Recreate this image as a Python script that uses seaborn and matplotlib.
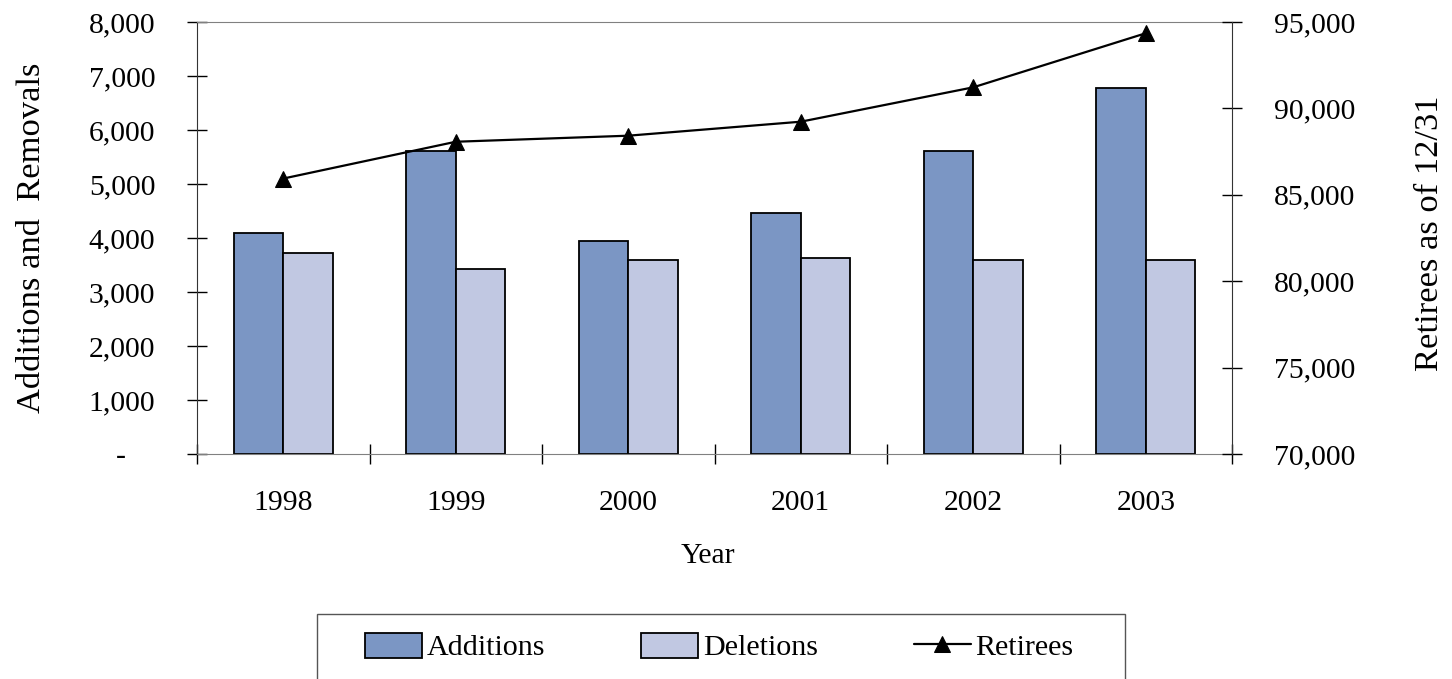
import numpy as np
import pandas as pd
import matplotlib
matplotlib.use("Agg")
import matplotlib.pyplot as plt
import matplotlib.ticker as mticker
from matplotlib.patches import Rectangle
import seaborn as sns

years = ["1998", "1999", "2000", "2001", "2002", "2003"]
additions = [4100, 5620, 3950, 4460, 5610, 6780]
deletions = [3720, 3420, 3590, 3630, 3600, 3590]
retirees = [85940, 88070, 88420, 89230, 91220, 94350]

sns.set_style("white")
plt.rcParams["font.family"] = ["Liberation Serif", "DejaVu Serif"]
plt.rcParams["font.size"] = 21
plt.rcParams["text.color"] = "black"
plt.rcParams["axes.labelcolor"] = "black"
plt.rcParams["xtick.color"] = "black"
plt.rcParams["ytick.color"] = "black"

df = pd.DataFrame({
    "Year": years * 2,
    "Count": additions + deletions,
    "Type": ["Additions"] * len(years) + ["Deletions"] * len(years),
})

fig = plt.figure(figsize=(14.52, 6.79), dpi=100)
ax = fig.add_axes([0.1357, 0.3314, 0.7128, 0.6362])

sns.barplot(data=df, x="Year", y="Count", hue="Type", order=years,
            palette=["#7b96c4", "#c1c8e2"], width=0.574, gap=0,
            edgecolor="black", linewidth=1.3, saturation=1,
            legend=False, ax=ax)

ax.set_xlim(-0.5, 5.5)
ax.set_ylim(0, 8000)
ax.set_yticks(np.arange(0, 8001, 1000))
ax.yaxis.set_major_formatter(mticker.FuncFormatter(
    lambda v, p: "-    " if v == 0 else f"{int(v):,}"))
ax.tick_params(axis="y", direction="inout", length=14, width=1, pad=23,
               labelsize=21.3, left=True, colors="black")
ax.set_xticks(range(len(years)))
ax.set_xticklabels(years)
ax.xaxis.set_minor_locator(mticker.FixedLocator(np.arange(-0.5, 6, 1)))
ax.tick_params(axis="x", which="major", length=0, pad=26, labelsize=21.3)
ax.tick_params(axis="x", which="minor", direction="inout", length=14,
               width=1, bottom=True, colors="black")
ax.set_xlabel("Year", fontsize=21.3)
ax.xaxis.set_label_coords(0.494, -0.205)
ax.set_ylabel("Additions and  Removals", fontsize=24.8)
ax.yaxis.set_label_coords(-0.145, 0.5)

for s in ["top", "bottom"]:
    ax.spines[s].set_color("#808080")
ax.spines["left"].set_color("#333333")
ax.spines["right"].set_visible(False)

ax2 = ax.twinx()
sns.lineplot(x=np.arange(len(years)), y=retirees, color="black", marker="^",
             markersize=11, markeredgecolor="black", linewidth=1.6, ax=ax2)
ax2.set_ylim(70000, 95000)
ax2.set_yticks(np.arange(70000, 95001, 5000))
ax2.yaxis.set_major_formatter(mticker.FuncFormatter(lambda v, p: f"{int(v):,}"))
ax2.tick_params(axis="y", direction="inout", length=14, width=1, pad=23,
                labelsize=21.3, right=True, colors="black")
ax2.set_ylabel("Retirees as of 12/31", fontsize=24.8)
ax2.yaxis.set_label_coords(1.176, 0.51)
for s in ["top", "bottom", "left"]:
    ax2.spines[s].set_visible(False)
ax2.spines["right"].set_color("#333333")

handles = [ax.containers[0], ax.containers[1], ax2.lines[0]]
fig.legend(handles, ["Additions", "Deletions", "Retirees"], ncol=3,
           loc="center", bbox_to_anchor=(0.4955, 0.047), frameon=False,
           fontsize=21.6, handlelength=1.9, handleheight=0.9,
           handletextpad=0.15, columnspacing=3.2)
fig.patches.append(Rectangle((317 / 1452, -0.05), 808 / 1452,
                             (679 - 614) / 679 + 0.05,
                             transform=fig.transFigure, fill=False,
                             edgecolor="#555555", linewidth=1))

fig.savefig("out.png", dpi=100)
